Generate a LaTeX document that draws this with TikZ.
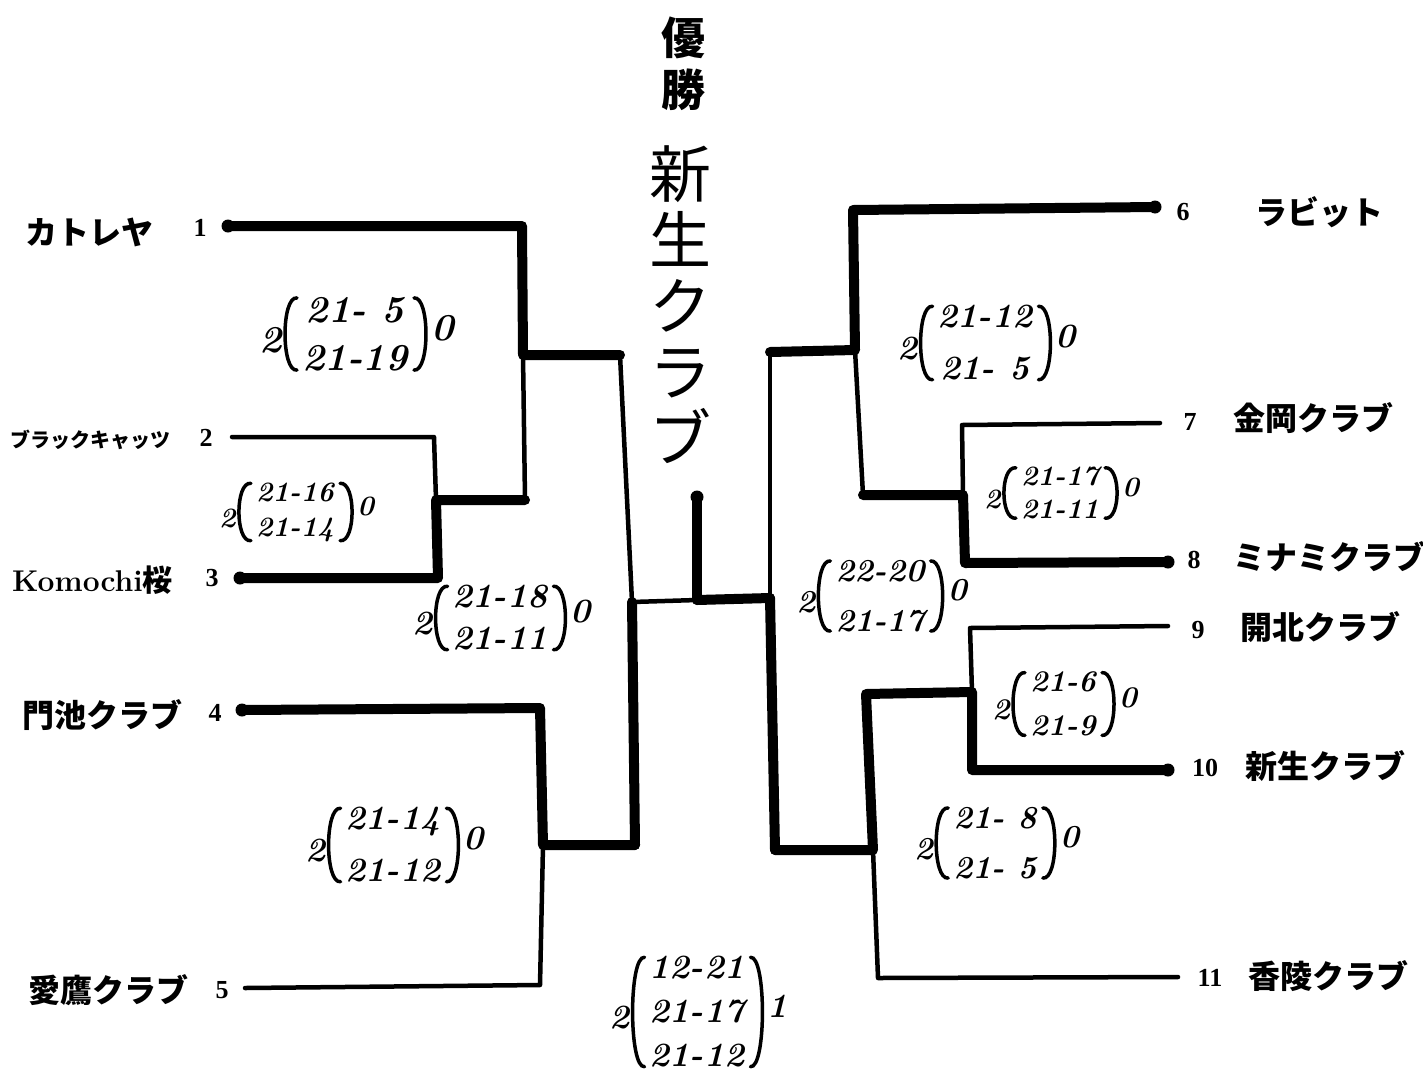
\documentclass[tikz,border=0pt]{standalone}
\usepackage{fontspec}
\newfontfamily\jp{Noto Sans CJK JP}
\newfontfamily\numf{Liberation Serif}
% #1 name, #2 position, #3 font size, #4 baselineskip, #5 rows, #6 left digit, #7 right digit
\newcommand{\scorebox}[7]{%
  \node[scoretxt,font=\bfseries\itshape\fontsize{#3}{#4}\selectfont] (#1) at (#2) {#5};
  \draw[paren] ([xshift=-4pt,yshift=-2pt]#1.north west) .. controls ([xshift=-20pt]#1.north west) and ([xshift=-20pt]#1.south west) .. ([xshift=-4pt,yshift=2pt]#1.south west);
  \draw[paren] ([xshift=5pt,yshift=-2pt]#1.north east) .. controls ([xshift=21pt]#1.north east) and ([xshift=21pt]#1.south east) .. ([xshift=5pt,yshift=2pt]#1.south east);
  \node[scoretxt,anchor=east,font=\bfseries\itshape\fontsize{#3}{#4}\selectfont] (#1l) at ([xshift=-18pt,yshift=-6pt]#1.west) {#6};
  \node[scoretxt,anchor=west,font=\bfseries\itshape\fontsize{#3}{#4}\selectfont] (#1r) at ([xshift=21pt,yshift=6pt]#1.east) {#7};
}
\begin{document}
\begin{tikzpicture}[x=1pt,y=-1pt,
  win/.style={line width=10pt,line cap=round,line join=round},
  lose/.style={line width=4.5pt,line cap=round,line join=round},
  paren/.style={line width=3.5pt,line cap=round},
  jlab/.style={font=\jp\bfseries\fontsize{32}{36}\selectfont,anchor=west,inner sep=0pt},
  num/.style={font=\numf\bfseries\fontsize{26}{30}\selectfont,inner sep=0pt},
  scoretxt/.style={inner sep=1pt,align=center},
  dot/.style={fill=black}]
\useasboundingbox[fill=white] (0,0) rectangle (1423,1082);

% ---------- coordinates (left half)
\coordinate (a1) at (228,226);  \coordinate (c1t) at (522,226);
\coordinate (c1m) at (523,355); \coordinate (d1m) at (620,355);
\coordinate (a2) at (232,437);  \coordinate (b23t) at (434,437);
\coordinate (b23m) at (436,500);\coordinate (c123m) at (525,500);
\coordinate (a3) at (240,578);  \coordinate (b23b) at (438,578);
\coordinate (a4) at (242,710);  \coordinate (b45t) at (540,708);
\coordinate (b45m) at (543,845);\coordinate (d45m) at (635,845);
\coordinate (a5) at (245,988);  \coordinate (b45b) at (540,985);
\coordinate (dL) at (632,602);
% centre
\coordinate (fC) at (697,600);  \coordinate (fTop) at (697,497);
\coordinate (dR) at (770,598);
% ---------- coordinates (right half)
\coordinate (a6) at (1155,207); \coordinate (e6t) at (853,210);
\coordinate (e6m) at (855,350); \coordinate (g6m) at (770,352);
\coordinate (a7) at (1160,423); \coordinate (e7t) at (962,425);
\coordinate (e78m) at (963,495);\coordinate (f678m) at (863,495);
\coordinate (a8) at (1168,562); \coordinate (e8b) at (965,563);
\coordinate (a9) at (1168,626); \coordinate (e9t) at (970,628);
\coordinate (e910m) at (972,692);\coordinate (f910m) at (866,694);
\coordinate (a10) at (1168,770);\coordinate (e10b) at (972,770);
\coordinate (f11m) at (873,850);\coordinate (g11m) at (775,850);
\coordinate (a11) at (1178,977);\coordinate (e11b) at (878,978);

% ---------- bracket lines (left)
\draw[lose] (a2) -- (b23t) -- (b23m);
\draw[win]  (a3) -- (b23b) -- (b23m) -- (c123m);
\draw[win]  (a1) -- (c1t) -- (c1m) -- (d1m);
\draw[lose] (c1m) -- (c123m);
\draw[win]  (a4) -- (b45t) -- (b45m) -- (d45m);
\draw[lose] (a5) -- (b45b) -- (b45m);
\draw[lose] (d1m) -- (dL);
\draw[win]  (d45m) -- (dL);
% centre
\draw[lose] (dL) -- (fC);
\draw[win]  (fC) -- (dR);
\draw[win]  (fC) -- (fTop);
% right
\draw[win]  (a6) -- (e6t) -- (e6m) -- (g6m);
\draw[lose] (a7) -- (e7t) -- (e78m);
\draw[win]  (a8) -- (e8b) -- (e78m) -- (f678m);
\draw[lose] (e6m) -- (f678m);
\draw[lose] (a9) -- (e9t) -- (e910m);
\draw[win]  (a10) -- (e10b) -- (e910m) -- (f910m) -- (f11m) -- (g11m);
\draw[lose] (a11) -- (e11b) -- (f11m);
\draw[lose] (g6m) -- (dR);
\draw[win]  (g11m) -- (dR);

% end blobs
\foreach \p in {a1,a3,a4,a6,a8,a10,fTop} \fill[dot] (\p) circle (6.5);

% ---------- team numbers and names (left)
\node[num] (n1) at (200,228) {1};
\node[jlab] (l1) at (25,232) {カトレヤ};
\node[num] (n2) at (206,438) {2};
\node[jlab,font=\jp\bfseries\fontsize{20}{22}\selectfont] (l2) at (10,440) {ブラックキャッツ};
\node[num] (n3) at (212,578) {3};
\node[anchor=west,inner sep=0pt,font=\bfseries\fontsize{30}{34}\selectfont] (l3) at (12,580) {Komochi{\jp 桜}};
\node[num] (n4) at (215,713) {4};
\node[jlab] (l4) at (22,715) {門池クラブ};
\node[num] (n5) at (222,990) {5};
\node[jlab] (l5) at (28,990) {愛鷹クラブ};
% right
\node[num] (n6) at (1183,212) {6};
\node[jlab] (l6) at (1255,212) {ラビット};
\node[num] (n7) at (1190,422) {7};
\node[jlab] (l7) at (1233,418) {金岡クラブ};
\node[num] (n8) at (1194,560) {8};
\node[jlab] (l8) at (1233,557) {ミナミクラブ};
\node[num] (n9) at (1198,630) {9};
\node[jlab] (l9) at (1240,627) {開北クラブ};
\node[num] (n10) at (1205,768) {10};
\node[jlab] (l10) at (1245,766) {新生クラブ};
\node[num] (n11) at (1210,978) {11};
\node[jlab] (l11) at (1248,976) {香陵クラブ};

% ---------- champion
\node[inner sep=0pt,align=center,font=\jp\bfseries\fontsize{44}{52}\selectfont] (win1) at (683,64) {優\\勝};
\node[inner sep=0pt,align=center,font=\jp\fontsize{62}{66}\selectfont] (win2) at (680,305) {新\\生\\ク\\ラ\\ブ};

% ---------- scores
\scorebox{s1}{355,334}{38}{48}{21- 5\\21-19}{2}{0}
\scorebox{s2}{295,512}{28}{35}{21-16\\21-14}{2}{0}
\scorebox{s3}{500,618}{34}{42}{21-18\\21-11}{2}{0}
\scorebox{s4}{393,845}{34}{52}{21-14\\21-12}{2}{0}
\scorebox{sf}{697,1012}{34}{44}{12-21\\21-17\\21-12}{2}{1}
\scorebox{s5}{985,343}{34}{52}{21-12\\21- 5}{2}{0}
\scorebox{s6}{1060,493}{28}{33}{21-17\\21-11}{2}{0}
\scorebox{s7}{880,596}{32}{50}{22-20\\21-17}{2}{0}
\scorebox{s8}{1063,704}{30}{44}{21-6\\21-9}{2}{0}
\scorebox{s9}{995,843}{32}{50}{21- 8\\21- 5}{2}{0}
\end{tikzpicture}
\end{document}
